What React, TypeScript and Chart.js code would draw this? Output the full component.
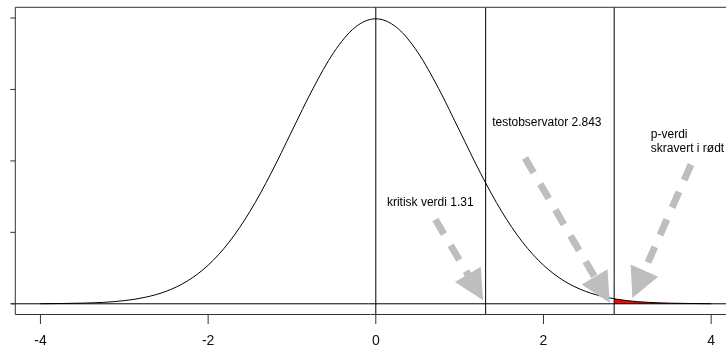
import React, { useEffect, useRef } from "react";
import { Chart, registerables } from "chart.js";

Chart.register(...registerables);

// density values (x step 0.25)
const xs = [-4, -3.75, -3.5, -3.25, -3, -2.75, -2.5, -2.25, -2, -1.75, -1.5, -1.25, -1, -0.75, -0.5, -0.25, 0,
  0.25, 0.5, 0.75, 1, 1.25, 1.5, 1.75, 2, 2.25, 2.5, 2.75, 3, 3.25, 3.5, 3.75, 4];
const density = [0.0001, 0.0004, 0.0009, 0.002, 0.0044, 0.0091, 0.0175, 0.0317, 0.054, 0.0863, 0.1295, 0.1826, 0.242, 0.3011, 0.3521, 0.3867, 0.3989,
  0.3867, 0.3521, 0.3011, 0.242, 0.1826, 0.1295, 0.0863, 0.054, 0.0317, 0.0175, 0.0091, 0.0044, 0.002, 0.0009, 0.0004, 0.0001];

// shaded tail (p-value)
const tailX = [2.843, 3, 3.25, 3.5, 3.75, 4];
const tailY = [0.007, 0.0044, 0.002, 0.0009, 0.0004, 0.0001];

const vLines = [0, 1.31, 2.843];
const xTicks = [-4, -2, 0, 2, 4];
const yTicks = [0, 0.1, 0.2, 0.3, 0.4];

// annotations (data coordinates)
const arrowFrom = [[0.71, 0.118], [1.78, 0.204], [3.76, 0.195]];
const arrowTo = [[1.28, 0.005], [2.79, 0.0015], [3.06, 0.008]];
const labels = [
  { text: "kritisk verdi 1.31", x: 0.65, y: 0.141, align: "center" },
  { text: "testobservator 2.843", x: 2.04, y: 0.253, align: "center" },
  { text: "p-verdi", x: 3.28, y: 0.2365, align: "left" },
  { text: "skravert i rødt", x: 3.28, y: 0.217, align: "left" },
];

const X_MIN = -4.3;
const X_MAX = 4.177;
const Y_MIN = -0.015;
const Y_MAX = 0.415;

const overlay = {
  id: "overlay",
  afterDatasetsDraw(chart: any) {
    const { ctx, chartArea } = chart;
    const xs_ = chart.scales.x;
    const ys_ = chart.scales.y;
    const { left, right, top, bottom } = chartArea;
    ctx.save();
    // vertical lines
    ctx.strokeStyle = "#000";
    ctx.lineWidth = 1;
    vLines.forEach((v) => {
      const px = xs_.getPixelForValue(v);
      ctx.beginPath();
      ctx.moveTo(px, top);
      ctx.lineTo(px, bottom);
      ctx.stroke();
    });
    // zero line
    const y0 = ys_.getPixelForValue(0);
    ctx.beginPath();
    ctx.moveTo(left - 4, y0);
    ctx.lineTo(right, y0);
    ctx.stroke();

    // box
    ctx.strokeStyle = "#333";
    ctx.beginPath();
    ctx.moveTo(right, top);
    ctx.lineTo(left, top);
    ctx.lineTo(left, bottom);
    ctx.lineTo(right, bottom);
    ctx.stroke();

    // y ticks
    yTicks.forEach((t) => {
      const py = ys_.getPixelForValue(t);
      ctx.beginPath();
      ctx.moveTo(left - 5, py);
      ctx.lineTo(left, py);
      ctx.stroke();
    });
    // x ticks + labels
    ctx.fillStyle = "#111";
    ctx.font = "14px 'Liberation Sans', Arial, sans-serif";
    ctx.textAlign = "center";
    ctx.textBaseline = "middle";
    xTicks.forEach((t) => {
      const px = xs_.getPixelForValue(t);
      ctx.beginPath();
      ctx.moveTo(px, bottom);
      ctx.lineTo(px, bottom + 9.5);
      ctx.stroke();
      ctx.fillText(String(t), px, bottom + 27);
    });

    // arrows
    const gray = "#bebebe";
    arrowFrom.forEach((f, i) => {
      const t = arrowTo[i];
      const x1 = xs_.getPixelForValue(f[0]);
      const y1 = ys_.getPixelForValue(f[1]);
      const x2 = xs_.getPixelForValue(t[0]);
      const y2 = ys_.getPixelForValue(t[1]);
      const dx = x2 - x1;
      const dy = y2 - y1;
      const len = Math.hypot(dx, dy);
      const ux = dx / len;
      const uy = dy / len;
      const headLen = 30;
      const headHalf = 15;
      const bx = x2 - ux * headLen;
      const by = y2 - uy * headLen;
      ctx.strokeStyle = gray;
      ctx.lineWidth = 7;
      ctx.lineCap = "butt";
      ctx.setLineDash([17, 13]);
      ctx.beginPath();
      ctx.moveTo(x1, y1);
      ctx.lineTo(bx + ux * 4, by + uy * 4);
      ctx.stroke();
      ctx.setLineDash([]);
      ctx.fillStyle = gray;
      ctx.beginPath();
      ctx.moveTo(x2, y2);
      ctx.lineTo(bx - uy * headHalf, by + ux * headHalf);
      ctx.lineTo(bx + uy * headHalf, by - ux * headHalf);
      ctx.closePath();
      ctx.fill();
    });

    // labels
    ctx.fillStyle = "#000";
    ctx.font = "12px 'Liberation Sans', Arial, sans-serif";
    ctx.textBaseline = "middle";
    labels.forEach((l) => {
      ctx.textAlign = l.align as CanvasTextAlign;
      ctx.fillText(l.text, xs_.getPixelForValue(l.x), ys_.getPixelForValue(l.y));
    });
    ctx.restore();
  },
};

export default function App() {
  const ref = useRef<HTMLCanvasElement>(null);
  useEffect(() => {
    document.body.style.margin = "0";
    const canvas = ref.current!;
    const chart = new Chart(canvas, {
      type: "line",
      data: {
        datasets: [
          {
            data: xs.map((x, i) => ({ x, y: density[i] })),
            borderColor: "#000",
            borderWidth: 1,
            pointRadius: 0,
            fill: false,
            cubicInterpolationMode: "monotone",
          },
          {
            data: tailX.map((x, i) => ({ x, y: tailY[i] })),
            borderWidth: 0,
            borderColor: "rgba(0,0,0,0)",
            backgroundColor: "#ff0000",
            pointRadius: 0,
            fill: "origin",
            cubicInterpolationMode: "monotone",
          },
        ],
      },
      options: {
        animation: false,
        responsive: false,
        devicePixelRatio: 1,
        layout: { padding: { left: 15.3, top: 7.3, right: 0, bottom: 34.5 } },
        plugins: { legend: { display: false }, tooltip: { enabled: false } },
        scales: {
          x: { type: "linear", min: X_MIN, max: X_MAX, display: false },
          y: { type: "linear", min: Y_MIN, max: Y_MAX, display: false },
        },
      },
      plugins: [overlay],
    });
    return () => chart.destroy();
  }, []);
  return <canvas ref={ref} width={726} height={349} style={{ display: "block" }} />;
}
